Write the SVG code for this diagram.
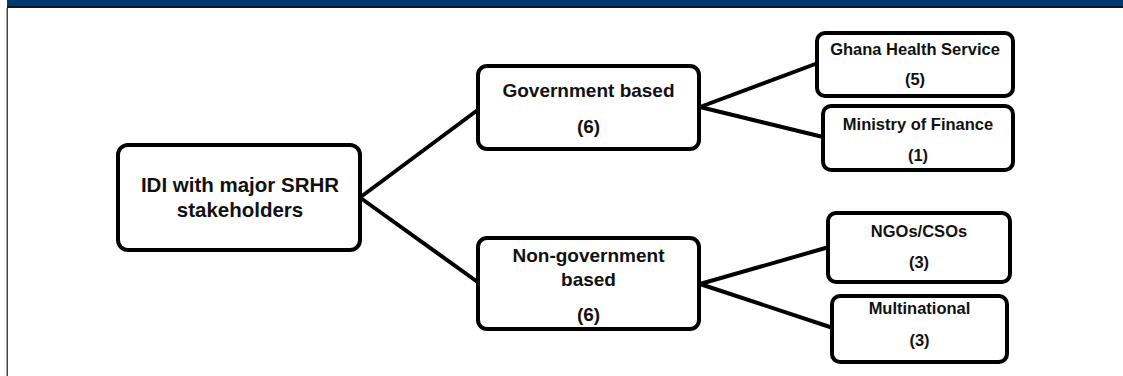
<svg xmlns="http://www.w3.org/2000/svg" width="1123" height="376" viewBox="0 0 1123 376">
<style>
.box{fill:#fff;stroke:#000;stroke-width:4;}
.t{font-family:"Liberation Sans",Arial,sans-serif;font-weight:bold;fill:#111;text-anchor:middle;}
.c{stroke:#000;stroke-width:4;fill:none;stroke-linecap:round;}
</style>
<rect x="0" y="0" width="1123" height="376" fill="#fff"/>
<g id="frame">
<rect x="7" y="0" width="1116" height="6.5" fill="#003b6f"/>
<rect x="7" y="6" width="1116" height="2" fill="#0a1a2a"/>
<rect x="6.5" y="8" width="1.5" height="368" fill="#444"/>
</g>
<g id="connectors">
<line class="c" x1="362" y1="196" x2="479" y2="109"/>
<line class="c" x1="362" y1="199" x2="479" y2="283"/>
<line class="c" x1="700" y1="107" x2="818" y2="63"/>
<line class="c" x1="700" y1="107" x2="823" y2="137"/>
<line class="c" x1="700" y1="284" x2="829" y2="247"/>
<line class="c" x1="700" y1="284" x2="833" y2="328"/>
</g>
<g id="n-root">
<rect class="box" x="118" y="145" width="242" height="105" rx="10"/>
<text class="t" x="240" y="192" font-size="20.5">IDI with major SRHR</text>
<text class="t" x="240" y="217" font-size="20.5">stakeholders</text>
</g>
<g id="n-gov">
<rect class="box" x="478" y="66" width="221" height="83" rx="9"/>
<text class="t" x="588.5" y="97" font-size="19">Government based</text>
<text class="t" x="588.5" y="133" font-size="19">(6)</text>
</g>
<g id="n-nongov">
<rect class="box" x="478" y="238" width="221" height="91" rx="9"/>
<text class="t" x="588.5" y="262" font-size="19">Non-government</text>
<text class="t" x="588.5" y="286" font-size="19">based</text>
<text class="t" x="588.5" y="321" font-size="19">(6)</text>
</g>
<g id="n-ghs">
<rect class="box" x="817" y="33" width="196" height="63" rx="8"/>
<text class="t" x="915" y="55" font-size="16.5">Ghana Health Service</text>
<text class="t" x="915" y="85" font-size="16.5">(5)</text>
</g>
<g id="n-mof">
<rect class="box" x="823" y="106" width="190" height="64" rx="8"/>
<text class="t" x="918" y="130" font-size="16.5">Ministry of Finance</text>
<text class="t" x="918" y="161" font-size="16.5">(1)</text>
</g>
<g id="n-ngo">
<rect class="box" x="828" y="213" width="182" height="69" rx="8"/>
<text class="t" x="919" y="237" font-size="16.5">NGOs/CSOs</text>
<text class="t" x="919" y="268" font-size="16.5">(3)</text>
</g>
<g id="n-multi">
<rect class="box" x="832" y="296" width="175" height="66" rx="8"/>
<text class="t" x="919.5" y="314" font-size="16.5">Multinational</text>
<text class="t" x="919.5" y="346" font-size="16.5">(3)</text>
</g>
</svg>
